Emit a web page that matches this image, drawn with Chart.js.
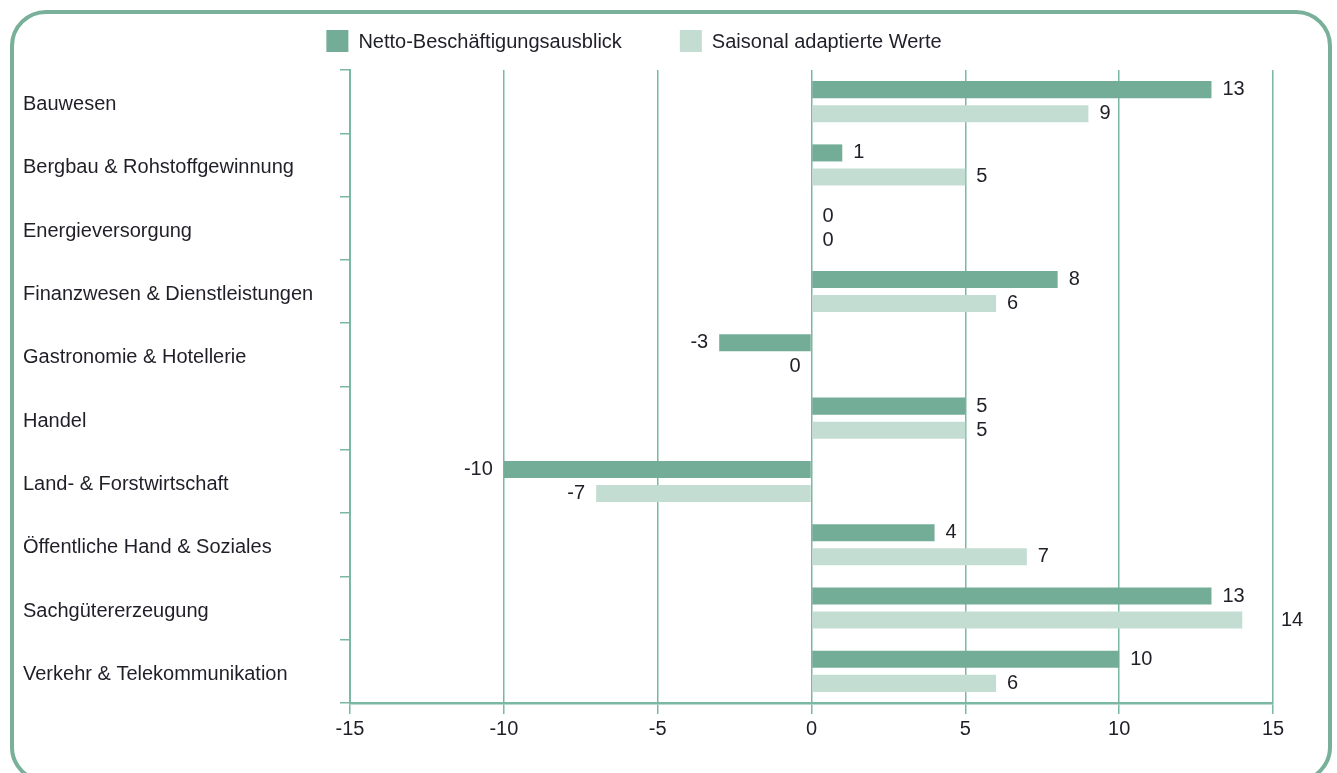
<!DOCTYPE html>
<html>
<head>
<meta charset="utf-8">
<script src="https://cdn.jsdelivr.net/npm/chart.js@4.4.1/dist/chart.umd.min.js"></script>
<style>
  html, body { margin: 0; padding: 0; background: #fff; overflow: hidden; }
  #wrap { position: relative; width: 1337px; height: 773px; }
  #frame {
    position: absolute; left: 10px; top: 10px; width: 1322px; height: 773px;
    box-sizing: border-box; border: 4px solid #78b09a; border-radius: 36px;
  }
  canvas { position: absolute; left: 0; top: 0; }
</style>
</head>
<body>
<div id="wrap">
  <div id="frame"></div>
  <canvas id="chart" width="1337" height="773"></canvas>
</div>
<script>
var categories = [
    "Bauwesen",
    "Bergbau & Rohstoffgewinnung",
    "Energieversorgung",
    "Finanzwesen & Dienstleistungen",
    "Gastronomie & Hotellerie",
    "Handel",
    "Land- & Forstwirtschaft",
    "Öffentliche Hand & Soziales",
    "Sachgütererzeugung",
    "Verkehr & Telekommunikation"
];
var nettoValues = [13, 1, 0, 8, -3, 5, -10, 4, 13, 10];
var saisonValues = [9, 5, 0, 6, 0, 5, -7, 7, 14, 6];
var xTicks = [-15, -10, -5, 0, 5, 10, 15];

var green = "#7ab8a1";
var textColor = "#1f1f28";
var fontFamily = "'Liberation Sans', Arial, Helvetica, sans-serif";

// value labels next to bar ends
var valueLabels = {
    id: "valueLabels",
    afterDatasetsDraw: function (chart) {
        var ctx = chart.ctx;
        var area = chart.chartArea;
        ctx.save();
        ctx.font = "20px " + fontFamily;
        ctx.fillStyle = textColor;
        ctx.textBaseline = "middle";
        chart.data.datasets.forEach(function (ds, di) {
            var meta = chart.getDatasetMeta(di);
            meta.data.forEach(function (bar, i) {
                var v = ds.data[i];
                var txt = String(v);
                var w = ctx.measureText(txt).width;
                var left = v < 0 || (v === 0 && chart.data.datasets[0].data[i] < 0);
                var x;
                if (left) {
                    ctx.textAlign = "right";
                    x = bar.x - 11;
                } else {
                    ctx.textAlign = "left";
                    x = bar.x + 11;
                    if (x + w > area.right - 2 && x < area.right + 8) x = area.right + 8;
                }
                ctx.fillText(txt, x, bar.y);
            });
        });
        ctx.restore();
    }
};

// legend row above the plot, wide gap between the two entries
var topLegend = {
    id: "topLegend",
    afterDraw: function (chart) {
        var ctx = chart.ctx;
        var box = 22, gap = 10, itemGap = 58, cy = 41;
        ctx.save();
        ctx.font = "20px " + fontFamily;
        var ds = chart.data.datasets;
        var total = 0;
        ds.forEach(function (d, i) {
            total += box + gap + ctx.measureText(d.label).width + (i > 0 ? itemGap : 0);
        });
        var x = 634 - total / 2;
        ds.forEach(function (d) {
            ctx.fillStyle = d.backgroundColor;
            ctx.fillRect(x, cy - box / 2, box, box);
            x += box + gap;
            ctx.fillStyle = textColor;
            ctx.textAlign = "left";
            ctx.textBaseline = "middle";
            ctx.fillText(d.label, x, cy + 1);
            x += ctx.measureText(d.label).width + itemGap;
        });
        ctx.restore();
    }
};

new Chart(document.getElementById("chart").getContext("2d"), {
    type: "bar",
    data: {
        labels: categories,
        datasets: [
            {
                label: "Netto-Beschäftigungsausblick",
                data: nettoValues,
                backgroundColor: "#73ad97",
                categoryPercentage: 0.76,
                barPercentage: 0.71
            },
            {
                label: "Saisonal adaptierte Werte",
                data: saisonValues,
                backgroundColor: "#c4ddd3",
                categoryPercentage: 0.76,
                barPercentage: 0.71
            }
        ]
    },
    options: {
        indexAxis: "y",
        responsive: false,
        animation: false,
        layout: {
            padding: { left: 23, right: 64, top: 70, bottom: 0 }
        },
        plugins: {
            legend: { display: false },
            tooltip: { enabled: false }
        },
        scales: {
            x: {
                min: -15,
                max: 15,
                afterBuildTicks: function (scale) {
                    scale.ticks = xTicks.map(function (v) { return { value: v }; });
                },
                afterFit: function (scale) { scale.height = 70; },
                grid: {
                    color: green,
                    lineWidth: 1.5,
                    tickLength: 11,
                    tickColor: green
                },
                border: { display: true, color: green, width: 2.5 },
                ticks: {
                    color: textColor,
                    padding: 3,
                    font: { size: 20, family: fontFamily }
                }
            },
            y: {
                afterFit: function (scale) { scale.width = 327; },
                grid: {
                    offset: true,
                    drawOnChartArea: false,
                    color: green,
                    lineWidth: 1.5,
                    tickLength: 10
                },
                border: { display: true, color: green, width: 2 },
                ticks: {
                    crossAlign: "far",
                    labelOffset: 3,
                    color: textColor,
                    font: { size: 20, family: fontFamily }
                }
            }
        }
    },
    plugins: [valueLabels, topLegend]
});
</script>
</body>
</html>
